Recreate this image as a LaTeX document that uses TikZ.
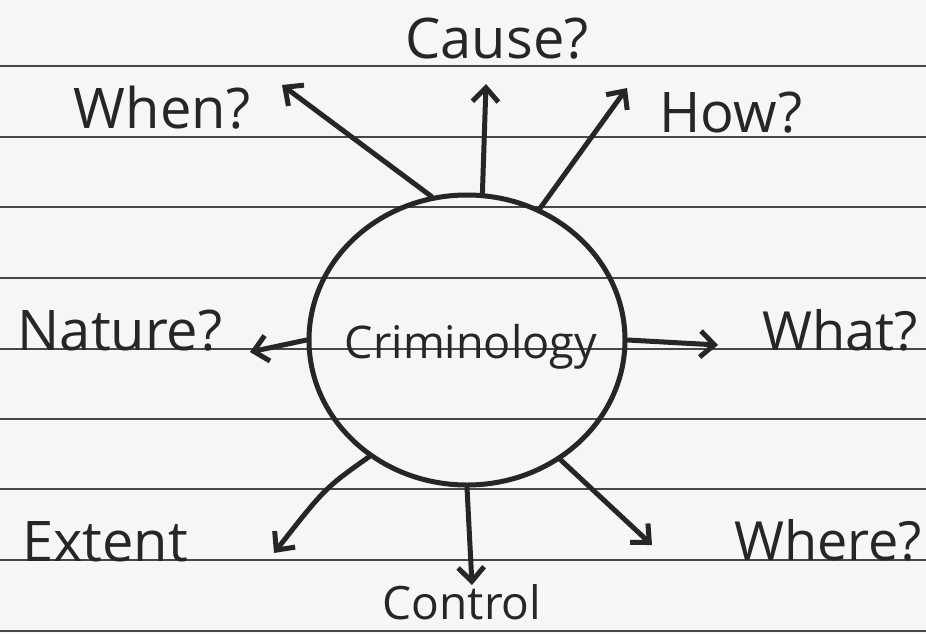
\documentclass[tikz,border=0pt]{standalone}
\usepackage{fontspec}
\setmainfont{Open Sans}
\usetikzlibrary{arrows.meta,shapes.geometric}
\definecolor{paper}{HTML}{F6F6F4}
\definecolor{ink}{HTML}{262626}
\tikzset{
  rule/.style={draw=ink!85, line width=1.8pt},
  spoke/.style={draw=ink, line width=5pt, line cap=round, -{Straight Barb[length=14pt,width=26pt,line width=5pt]}},
  lbl/.style={text=ink, font=\fontsize{56}{60}\selectfont, inner sep=0pt, anchor=base},
}
\begin{document}
\begin{tikzpicture}[x=1pt,y=-1pt]
\fill[paper] (0,0) rectangle (926,633);
\useasboundingbox (0,0) rectangle (926,633);
\foreach \yy in {66,137,207,278,349,419,489,560,631}
  \draw[rule] (0,\yy) -- (926,\yy);
% center
\node[draw=ink, line width=5pt, ellipse, minimum width=316pt, minimum height=290pt, inner sep=0pt] (c) at (467,340) {};
\node[lbl, font=\fontsize{45}{49}\selectfont] (crim) at (471,358) {Criminology};
% labels
\node[lbl] (when) at (162,128) {When?};
\node[lbl] (cause) at (497,58) {Cause?};
\node[lbl] (how) at (731,132) {How?};
\node[lbl] (nature) at (120,350) {Nature?};
\node[lbl, font=\fontsize{54}{58}\selectfont] (what) at (840,350) {What?};
\node[lbl] (extent) at (105,561) {Extent};
\node[lbl, font=\fontsize{46}{50}\selectfont] (control) at (462,619) {Control};
\node[lbl, font=\fontsize{54}{58}\selectfont] (where) at (828,560) {Where?};
% arrow end points
\coordinate (ewhen) at (282,85);
\coordinate (ecause) at (486,84);
\coordinate (ehow) at (627,88);
\coordinate (enature) at (250,352);
\coordinate (ewhat) at (718,345);
\coordinate (eextent) at (274,553);
\coordinate (econtrol) at (472,585);
\coordinate (ewhere) at (652,545);
\draw[spoke] (c.104) -- (ewhen);
\draw[spoke] (c.84) -- (ecause);
\draw[spoke] (c.61) -- (ehow);
\draw[spoke] (c.180) -- (enature);
\draw[spoke] (c.0) -- (ewhat);
\draw[spoke] (c.230) .. controls (325,488) .. (eextent);
\draw[spoke] (c.270) -- (econtrol);
\draw[spoke] (c.308) -- (ewhere);
\end{tikzpicture}
\end{document}
